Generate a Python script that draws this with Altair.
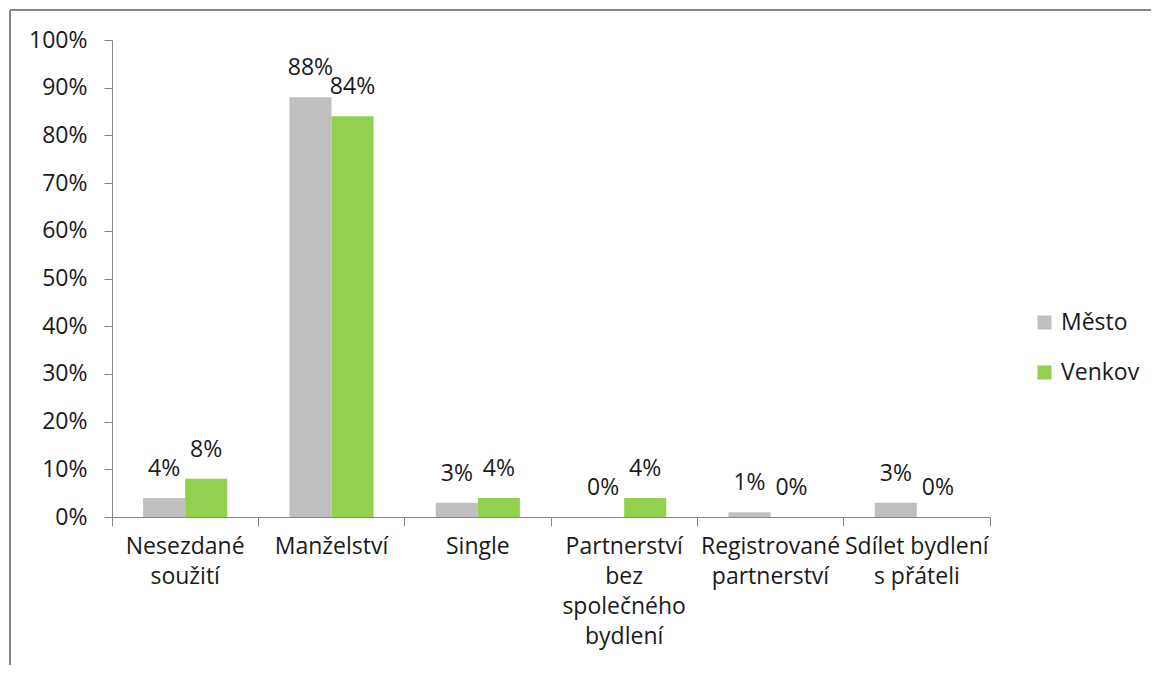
import altair as alt
import pandas as pd

categories = [
    "Nesezdané\nsoužití",
    "Manželství",
    "Single",
    "Partnerství\nbez\nspolečného\nbydlení",
    "Registrované\npartnerství",
    "Sdílet bydlení\ns přáteli",
]
series = ["Město", "Venkov"]
mesto = [0.04, 0.88, 0.03, 0.00, 0.01, 0.03]
venkov = [0.08, 0.84, 0.04, 0.04, 0.00, 0.00]
colors = ["#BFBFBF", "#92D050"]

rows = []
for c, m, v in zip(categories, mesto, venkov):
    rows.append({"category": c, "series": "Město", "value": m})
    rows.append({"category": c, "series": "Venkov", "value": v})
df = pd.DataFrame(rows)

FONT = "Open Sans"
FS = 23
FSN = 23
TXT = "#1a1a1a"
AX = "#868686"

x_enc = alt.X(
    "category:N",
    sort=categories,
    title=None,
    scale=alt.Scale(paddingInner=0, paddingOuter=0),
    axis=alt.Axis(
        bandPosition=1,
        tickExtra=True,
        labelAngle=0,
        labelExpr="split(datum.label, '\\n')",
        labelLineHeight=30,
        labelPadding=9,
        labelBaseline="top",
        tickSize=9,
        domainColor=AX,
        tickColor=AX,
        labelColor=TXT,
        labelFont=FONT,
        labelFontSize=FS,
        labelLimit=0,
        grid=False,
    ),
)
xo_enc = alt.XOffset(
    "series:N", sort=series, scale=alt.Scale(paddingInner=0, paddingOuter=0.74)
)
y_enc = alt.Y(
    "value:Q",
    title=None,
    scale=alt.Scale(domain=[0, 1], nice=False),
    axis=alt.Axis(
        values=[i / 10 for i in range(11)],
        format=".0%",
        tickSize=8,
        labelPadding=17,
        domainColor=AX,
        tickColor=AX,
        labelColor=TXT,
        labelFont=FONT,
        labelFontSize=FSN,
        grid=False,
    ),
)

bars = alt.Chart(df).mark_bar().encode(
    x=x_enc,
    xOffset=xo_enc,
    y=y_enc,
    color=alt.Color(
        "series:N",
        sort=series,
        scale=alt.Scale(domain=series, range=colors),
        legend=alt.Legend(
            title=None,
            orient="none",
            legendX=921,
            legendY=271,
            symbolType="square",
            symbolSize=196,
            symbolStrokeWidth=0,
            labelFont=FONT,
            labelFontSize=FSN,
            labelColor=TXT,
            rowPadding=26,
            padding=0,
            labelOffset=5,
        ),
    ),
)

labels = alt.Chart(df).mark_text(
    baseline="bottom", dy=-17, font=FONT, fontSize=FSN, color=TXT
).encode(
    x=alt.X("category:N", sort=categories),
    xOffset=alt.XOffset("series:N", sort=series),
    y=alt.Y("value:Q"),
    text=alt.Text("value:Q", format=".0%"),
)

frame_df = pd.DataFrame({"k": [0]})
frame_top = alt.Chart(frame_df).mark_rule(color=AX, strokeWidth=2).encode(
    x=alt.value(-102), x2=alt.value(1100), y=alt.value(-30)
)
frame_left = alt.Chart(frame_df).mark_rule(color=AX, strokeWidth=2).encode(
    x=alt.value(-102), y=alt.value(-30), y2=alt.value(700)
)

chart = (
    alt.layer(bars, labels, frame_top, frame_left)
    .properties(
        width=878,
        height=477,
        autosize=alt.AutoSizeParams(type="none"),
        padding={"left": 104, "top": 32, "right": 161, "bottom": 148},
    )
    .configure_view(stroke=None)
)

chart.save("out.html", embed_options={"renderer": "svg", "actions": False})
